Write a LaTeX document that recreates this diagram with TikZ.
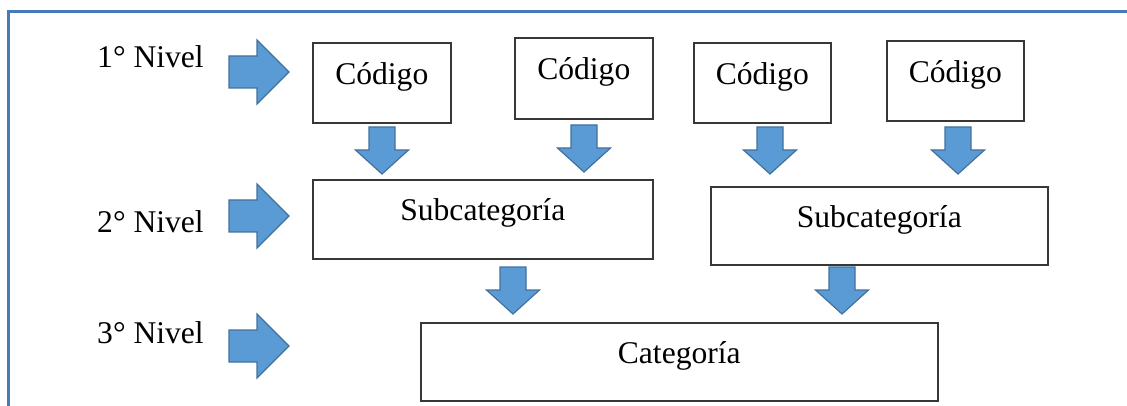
\documentclass[tikz,border=0pt]{standalone}
\usepackage{fontspec}
\setmainfont{Liberation Serif}
\definecolor{framecol}{RGB}{70,122,184}
\definecolor{arrowfill}{RGB}{91,155,213}
\definecolor{arrowline}{RGB}{65,113,156}
\definecolor{boxline}{RGB}{55,55,55}
\begin{document}
\begin{tikzpicture}[x=1pt,y=-1pt,
  txtfont/.style={font=\fontsize{31.6}{38}\selectfont},
  box/.style={draw=boxline, line width=1.6pt, rectangle, inner sep=0pt,
    anchor=north west, text height=13pt, text depth=10pt, txtfont},
  level/.style={anchor=base west, inner sep=0pt, txtfont},
  blockarrow/.style={fill=arrowfill, draw=arrowline, line width=1.2pt, line join=miter},
  pics/downblock/.style={code={
    \path[blockarrow] (-13,0) -- (13,0) -- (13,23) -- (26.5,23) -- (0,47)
      -- (-26.5,23) -- (-13,23) -- cycle;}},
  pics/rightblock/.style={code={
    \path[blockarrow] (0,-16) -- (28,-16) -- (28,-32) -- (60,0) -- (28,32)
      -- (28,16) -- (0,16) -- cycle;}}
]
\useasboundingbox (0,0) rectangle (1127,406);

% outer frame (top and left edges)
\draw[framecol, line width=3pt] (8,412) -- (8,12) -- (1133,12);

% level labels
\node[level] (n1) at (97,68) {1° Nivel};
\node[level] (n2) at (97,233) {2° Nivel};
\node[level] (n3) at (97,343) {3° Nivel};

% level arrows
\pic (r1) at (229,72) {rightblock};
\pic (r2) at (229,216) {rightblock};
\pic (r3) at (229,346) {rightblock};

% first level: codes
\node[box, minimum width=138pt, minimum height=80pt] (c1) at (312,42) {Código};
\node[box, minimum width=138pt, minimum height=81pt] (c2) at (514,37) {Código};
\node[box, minimum width=137pt, minimum height=80pt] (c3) at (693,42) {Código};
\node[box, minimum width=137pt, minimum height=80pt] (c4) at (886,40) {Código};

% second level: subcategories
\node[box, minimum width=340pt, minimum height=79pt] (s1) at (312,179) {Subcategoría};
\node[box, minimum width=337pt, minimum height=78pt] (s2) at (710,186) {Subcategoría};

% third level: category
\node[box, minimum width=517pt, minimum height=78pt] (cat) at (420,322) {Categoría};

% codes to subcategories
\pic (d1) at (382,127) {downblock};
\pic (d2) at (584,125) {downblock};
\pic (d3) at (770,127) {downblock};
\pic (d4) at (958,127) {downblock};

% subcategories to category
\pic (d5) at (513,267) {downblock};
\pic (d6) at (842,267) {downblock};
\end{tikzpicture}
\end{document}
